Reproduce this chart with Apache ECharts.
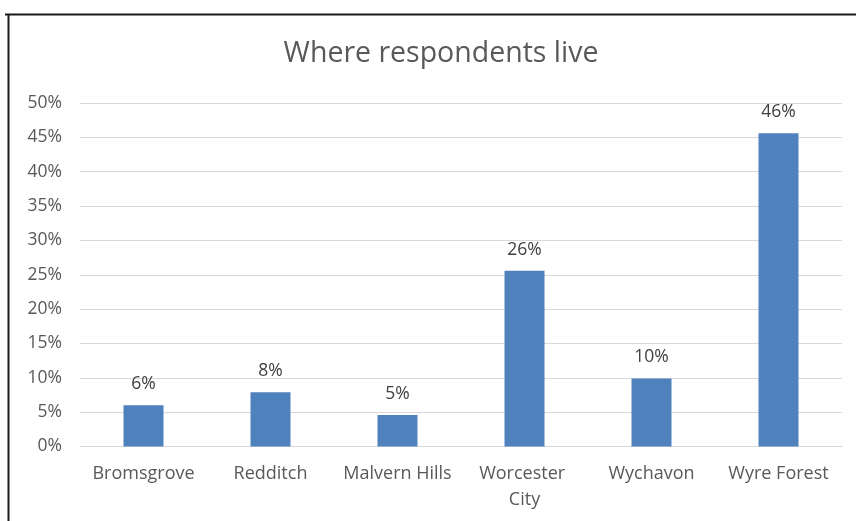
<!DOCTYPE html>
<html>
<head>
<meta charset="utf-8">
<script src="https://cdn.jsdelivr.net/npm/echarts@6/dist/echarts.min.js"></script>
<style>
html,body{margin:0;padding:0;background:#fff;}
#chart{width:856px;height:521px;}
</style>
</head>
<body>
<div id="chart"></div>
<script>
const categories = ['Bromsgrove', 'Redditch', 'Malvern Hills', 'Worcester City', 'Wychavon', 'Wyre Forest'];
const values = [6.0, 7.9, 4.6, 25.6, 9.9, 45.6];
const chartTitle = 'Where respondents live';

const chart = echarts.init(document.getElementById('chart'));
const FONT = '"Open Sans", "Noto Sans", sans-serif';
chart.setOption({
  animation: false,
  backgroundColor: '#ffffff',
  title: {
    text: chartTitle,
    left: 436,
    textAlign: 'center',
    top: 34,
    textStyle: { fontFamily: FONT, fontSize: 28.5, fontWeight: 'normal', color: '#595959' }
  },
  grid: { left: 80, right: 14, top: 103, bottom: 74.5 },
  xAxis: {
    type: 'category',
    data: categories,
    axisLine: { lineStyle: { color: '#d9d9d9', width: 1 } },
    axisTick: { show: false },
    axisLabel: {
      fontFamily: FONT, fontSize: 18, color: '#595959', margin: 14,
      lineHeight: 26, width: 118, overflow: 'break', interval: 0
    }
  },
  yAxis: {
    type: 'value',
    min: 0, max: 50, interval: 5,
    axisLine: { show: false },
    axisTick: { show: false },
    splitLine: { lineStyle: { color: '#d9d9d9', width: 1 } },
    axisLabel: { fontFamily: FONT, fontSize: 17.5, color: '#595959', margin: 18, formatter: '{value}%' }
  },
  series: [{
    type: 'bar',
    data: values,
    barWidth: 40,
    itemStyle: { color: '#4f81bd' },
    label: {
      show: true, position: 'top', distance: 12,
      fontFamily: FONT, fontSize: 17.5, color: '#404040',
      formatter: p => Math.round(p.value) + '%'
    }
  }],
  graphic: [
    { type: 'line', shape: { x1: 5, y1: 14.5, x2: 856, y2: 14.5 }, style: { stroke: '#1a1a1a', lineWidth: 2 }, z: 100 },
    { type: 'line', shape: { x1: 8.5, y1: 14, x2: 8.5, y2: 521 }, style: { stroke: '#1a1a1a', lineWidth: 2 }, z: 100 }
  ]
});
</script>
</body>
</html>
